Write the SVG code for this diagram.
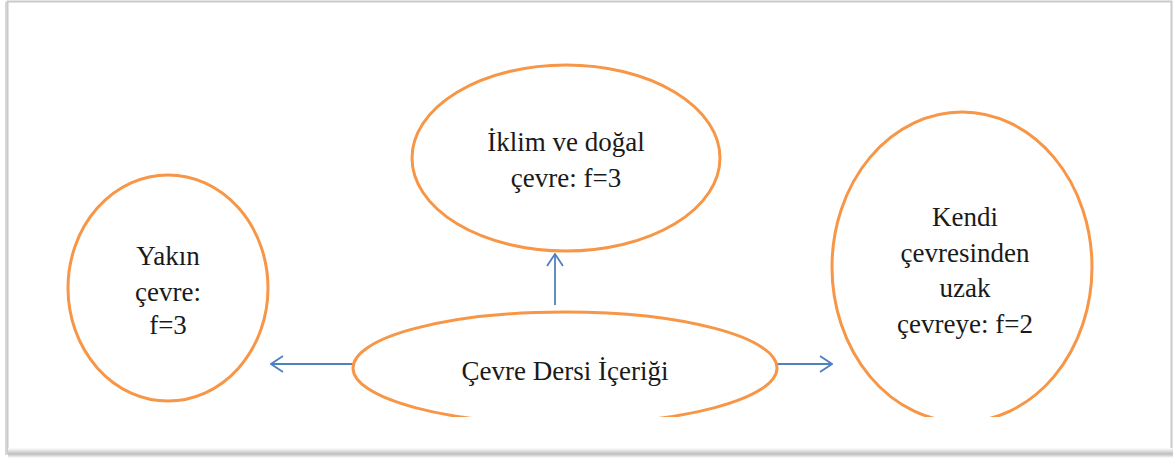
<svg xmlns="http://www.w3.org/2000/svg" width="1176" height="461" viewBox="0 0 1176 461">
  <style>
    .node { fill: #ffffff; stroke: #f79646; stroke-width: 3; }
    .lbl { font-family: "Liberation Serif", "Times New Roman", serif; font-size: 27px; fill: #1a1a1a; text-anchor: middle; }
    .conn { stroke: #4f81bd; stroke-width: 1.8; fill: none; marker-end: url(#arr); }
  </style>
  <defs>
    <marker id="arr" viewBox="0 0 14 18" refX="13" refY="9" markerWidth="14" markerHeight="18" markerUnits="userSpaceOnUse" orient="auto">
      <path d="M1,1 L13,9 L1,17" fill="none" stroke="#4f81bd" stroke-width="1.8"/>
    </marker>
    <clipPath id="cut">
      <rect x="0" y="0" width="1176" height="417"/>
    </clipPath>
    <linearGradient id="shadowB" x1="0" y1="0" x2="0" y2="1">
      <stop offset="0" stop-color="#ffffff"/>
      <stop offset="0.6" stop-color="#bdbdbd"/>
      <stop offset="1" stop-color="#ffffff"/>
    </linearGradient>
  </defs>
  <rect x="0" y="0" width="1176" height="461" fill="#ffffff"/>
  <g id="frame">
    <rect x="7.5" y="1.5" width="1164" height="452" fill="none" stroke="#c9c9c9" stroke-width="2"/>
    <rect x="8" y="448" width="1165" height="10" fill="url(#shadowB)"/>
    <line x1="6" y1="2" x2="6" y2="455" stroke="#d6d6d6" stroke-width="2"/>
  </g>
  <g id="connectors">
    <line class="conn" x1="355" y1="364" x2="271" y2="364"/>
    <line class="conn" x1="555" y1="305" x2="555" y2="254"/>
    <line class="conn" x1="777" y1="364" x2="832" y2="364"/>
  </g>
  <g id="node-center">
    <ellipse class="node" cx="565" cy="368" rx="212" ry="56" clip-path="url(#cut)"/>
    <text class="lbl" x="565" y="380">Çevre Dersi İçeriği</text>
  </g>
  <g id="node-top">
    <ellipse class="node" cx="566" cy="158" rx="154" ry="93"/>
    <text class="lbl" x="566" y="151">İklim ve doğal</text>
    <text class="lbl" x="566" y="187">çevre: f=3</text>
  </g>
  <g id="node-left">
    <ellipse class="node" cx="168" cy="288" rx="100" ry="113"/>
    <text class="lbl" x="168" y="265">Yakın</text>
    <text class="lbl" x="168" y="301">çevre:</text>
    <text class="lbl" x="168" y="334">f=3</text>
  </g>
  <g id="node-right">
    <ellipse class="node" cx="962" cy="267" rx="130" ry="155" clip-path="url(#cut)"/>
    <text class="lbl" x="965" y="226">Kendi</text>
    <text class="lbl" x="965" y="262">çevresinden</text>
    <text class="lbl" x="965" y="297">uzak</text>
    <text class="lbl" x="965" y="333">çevreye: f=2</text>
  </g>
</svg>
